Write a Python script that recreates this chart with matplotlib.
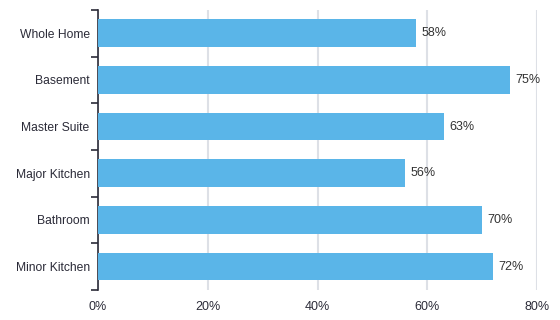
import matplotlib
matplotlib.use('Agg')
import matplotlib.pyplot as plt

categories = ['Whole Home', 'Basement', 'Master Suite', 'Major Kitchen', 'Bathroom', 'Minor Kitchen']
values = [58, 75, 63, 56, 70, 72]
xticks = [0, 20, 40, 60, 80]

plt.rcParams['font.family'] = ['Liberation Sans', 'DejaVu Sans']

fig = plt.figure(figsize=(5.6, 3.2), dpi=100)
ax = fig.add_axes([0.175, 0.094, 0.784, 0.875])

ypos = list(range(len(categories)))
ax.barh(ypos, values, height=0.59, color='#5ab5e8', zorder=3)
for y, v in zip(ypos, values):
    ax.text(v + 1, y, f'{v}%', va='center', ha='left', fontsize=9, color='#333333')

ax.set_xlim(0, 80)
ax.set_ylim(len(categories) - 0.5, -0.5)
ax.set_xticks(xticks)
ax.set_xticklabels([f'{t}%' for t in xticks])
ax.set_yticks(ypos)
ax.set_yticklabels(categories)

# category boundary ticks on the left axis
ax.set_yticks([i - 0.5 for i in range(len(categories) + 1)], minor=True)
ax.tick_params(axis='y', which='major', length=0, pad=6, labelsize=8.7, labelcolor='#2b2b38')
ax.tick_params(axis='y', which='minor', length=5, width=1.2, color='#2b2b38')
ax.tick_params(axis='x', length=0, pad=8, labelsize=9, labelcolor='#2b2b38')

ax.grid(axis='x', color='#dde0e6', linewidth=1.5, zorder=0)
for s in ['top', 'right', 'bottom']:
    ax.spines[s].set_visible(False)
ax.spines['left'].set_color('#2b2b38')
ax.spines['left'].set_linewidth(1.2)

fig.savefig('out.png', dpi=100)
